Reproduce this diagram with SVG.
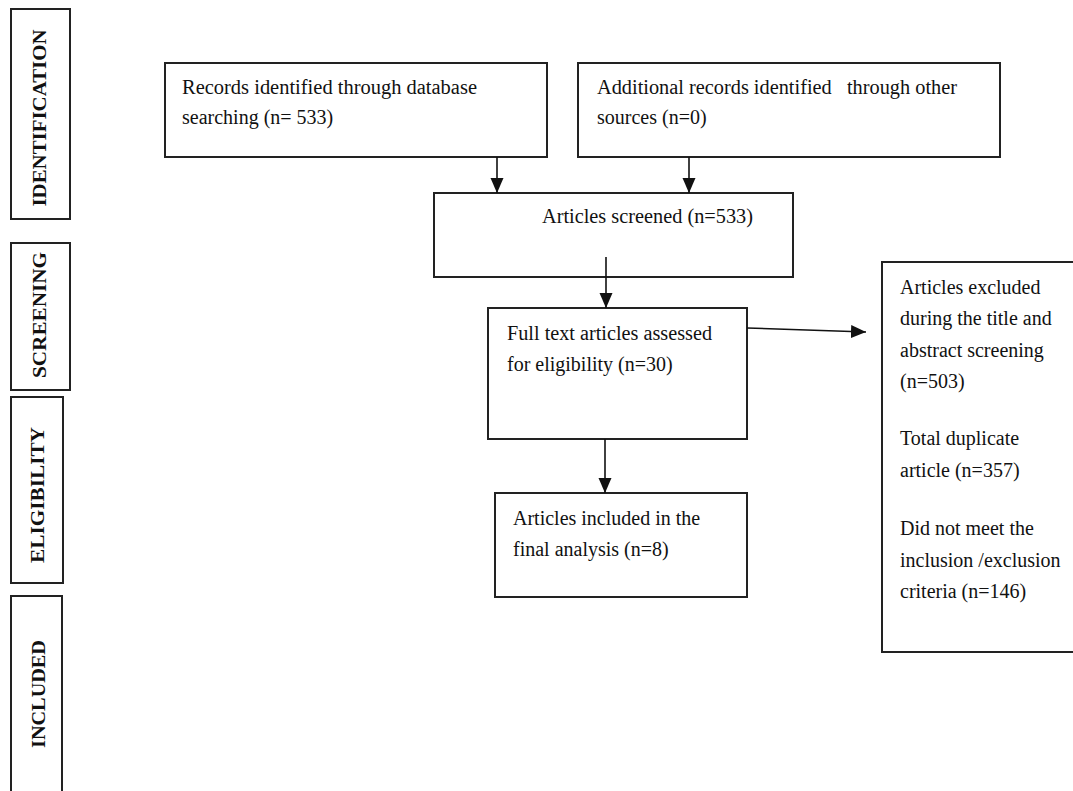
<svg xmlns="http://www.w3.org/2000/svg" width="1073" height="791" viewBox="0 0 1073 791">
<style>
.box{fill:#fff;stroke:#222;stroke-width:2}
.t{font-family:"Liberation Serif","Times New Roman",serif;font-size:20px;fill:#111}
.s{font-family:"Liberation Serif","Times New Roman",serif;font-size:18px;font-weight:bold;fill:#111;text-anchor:middle}
.c{stroke:#111;stroke-width:1.6;fill:none;marker-end:url(#ah)}
</style>
<defs>
<marker id="ah" markerUnits="userSpaceOnUse" markerWidth="15" markerHeight="15" viewBox="0 0 15 15" refX="15" refY="7.5" orient="auto">
<path d="M0,1 L15,7.5 L0,14 Z" fill="#111"/>
</marker>
</defs>
<rect width="1073" height="791" fill="#fff"/>
<g id="stage-identification">
<rect class="box" x="11" y="9" width="59" height="210"/>
<text class="s" transform="translate(46,118) rotate(-90)" textLength="177" lengthAdjust="spacingAndGlyphs">IDENTIFICATION</text>
</g>
<g id="stage-screening">
<rect class="box" x="11" y="243" width="59" height="147"/>
<text class="s" transform="translate(46,315) rotate(-90)" textLength="126" lengthAdjust="spacingAndGlyphs">SCREENING</text>
</g>
<g id="stage-eligibility">
<rect class="box" x="11" y="397" width="52" height="186"/>
<text class="s" transform="translate(44,495) rotate(-90)" textLength="136" lengthAdjust="spacingAndGlyphs">ELIGIBILITY</text>
</g>
<g id="stage-included">
<path class="box" d="M11,800 V596 H62 V800"/>
<text class="s" transform="translate(45,694) rotate(-90)" textLength="108" lengthAdjust="spacingAndGlyphs">INCLUDED</text>
</g>
<g id="records-db">
<rect class="box" x="165" y="63" width="382" height="94"/>
<text class="t" x="182" y="94" textLength="295" lengthAdjust="spacingAndGlyphs">Records identified through database</text>
<text class="t" x="182" y="124">searching (n= 533)</text>
</g>
<g id="records-other">
<rect class="box" x="578" y="63" width="422" height="94"/>
<text class="t" x="597" y="94" textLength="360" lengthAdjust="spacingAndGlyphs" xml:space="preserve">Additional records identified   through other</text>
<text class="t" x="597" y="124">sources (n=0)</text>
</g>
<g id="screened">
<rect class="box" x="434" y="193" width="359" height="84"/>
<text class="t" x="542" y="223" textLength="211" lengthAdjust="spacingAndGlyphs">Articles screened (n=533)</text>
</g>
<g id="fulltext">
<rect class="box" x="488" y="308" width="259" height="131"/>
<text class="t" x="507" y="340" textLength="205" lengthAdjust="spacingAndGlyphs">Full text articles assessed</text>
<text class="t" x="507" y="371">for eligibility (n=30)</text>
</g>
<g id="included">
<rect class="box" x="495" y="493" width="252" height="104"/>
<text class="t" x="513" y="525">Articles included in the</text>
<text class="t" x="513" y="556">final analysis (n=8)</text>
</g>
<g id="excluded">
<rect class="box" x="882" y="262" width="200" height="390"/>
<text class="t" x="900" y="294">Articles excluded</text>
<text class="t" x="900" y="325">during the title and</text>
<text class="t" x="900" y="357">abstract screening</text>
<text class="t" x="900" y="388">(n=503)</text>
<text class="t" x="900" y="445">Total duplicate</text>
<text class="t" x="900" y="477">article (n=357)</text>
<text class="t" x="900" y="535">Did not meet the</text>
<text class="t" x="900" y="567">inclusion /exclusion</text>
<text class="t" x="900" y="598">criteria (n=146)</text>
</g>
<g id="connectors">
<line class="c" x1="497" y1="157" x2="497" y2="193"/>
<line class="c" x1="689" y1="157" x2="689" y2="193"/>
<line class="c" x1="606" y1="257" x2="606" y2="308"/>
<line class="c" x1="747" y1="328" x2="866" y2="332"/>
<line class="c" x1="605" y1="439" x2="605" y2="493"/>
</g>
</svg>
